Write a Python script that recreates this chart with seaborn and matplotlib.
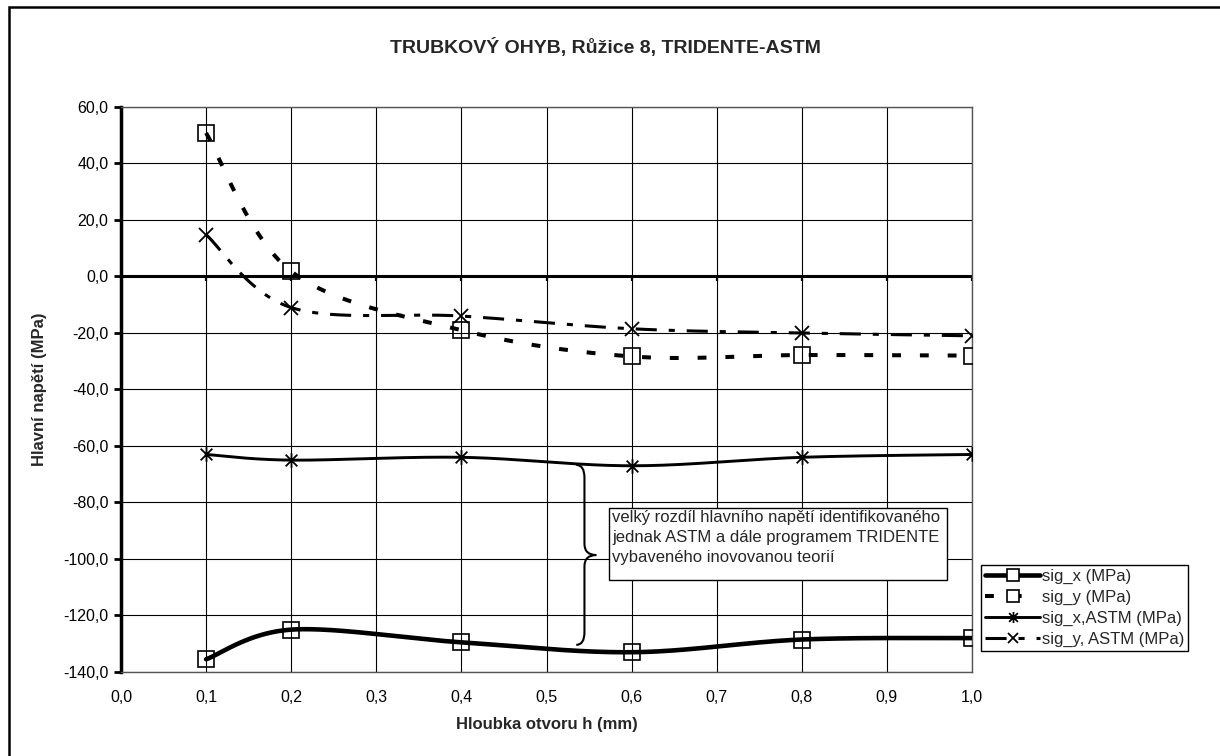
import numpy as np
import matplotlib
matplotlib.use("Agg")
import matplotlib.pyplot as plt
from matplotlib.path import Path
from matplotlib.patches import PathPatch, Rectangle
from matplotlib.lines import Line2D
import seaborn as sns

# ---------------- data ----------------
h = [0.1, 0.2, 0.4, 0.6, 0.8, 1.0]
sig_x = [-135.5, -125.0, -129.5, -133.0, -128.5, -128.0]
sig_y = [50.8, 1.8, -19.0, -28.3, -27.8, -28.0]
sig_x_astm = [-63.0, -65.0, -64.0, -67.0, -64.0, -63.0]
sig_y_astm = [14.8, -11.0, -14.0, -18.5, -20.0, -21.0]

series_labels = ["sig_x (MPa)", "sig_y (MPa)", "sig_x,ASTM (MPa)", "sig_y, ASTM (MPa)"]
x_ticks = [0.0, 0.1, 0.2, 0.3, 0.4, 0.5, 0.6, 0.7, 0.8, 0.9, 1.0]
x_tick_labels = ["0,0", "0,1", "0,2", "0,3", "0,4", "0,5", "0,6", "0,7", "0,8", "0,9", "1,0"]
y_ticks = [-140, -120, -100, -80, -60, -40, -20, 0, 20, 40, 60]
y_tick_labels = ["-140,0", "-120,0", "-100,0", "-80,0", "-60,0", "-40,0", "-20,0",
                 "0,0", "20,0", "40,0", "60,0"]
title = "TRUBKOVÝ OHYB, Růžice 8, TRIDENTE-ASTM"
x_label = "Hloubka otvoru h (mm)"
y_label = "Hlavní napětí (MPa)"
note = ("velký rozdíl hlavního napětí identifikovaného\n"
        "jednak ASTM a dále programem TRIDENTE\n"
        "vybaveného inovovanou teorií")

# ---------------- style ----------------
sns.set_style("white")
plt.rcParams["font.family"] = ["Liberation Sans", "DejaVu Sans"]

W, H = 1220, 756
fig = plt.figure(figsize=(W / 100, H / 100), dpi=100)
fig.patch.set_facecolor("white")

ax_left, ax_right, ax_top, ax_bottom = 121, 972, 107, 672
ax = fig.add_axes([ax_left / W, 1 - ax_bottom / H,
                   (ax_right - ax_left) / W, (ax_bottom - ax_top) / H])


def excel_smooth(xs, ys, n=60):
    """Excel-like smoothed line (Catmull-Rom style cubic Bezier)."""
    P = np.column_stack([xs, ys]).astype(float)
    m = len(P)
    out = []
    t = np.linspace(0, 1, n)[:, None]
    for i in range(m - 1):
        p0 = P[i]
        p3 = P[i + 1]
        prev = P[i - 1] if i > 0 else P[i]
        nxt = P[i + 2] if i + 2 < m else P[i + 1]
        c1 = p0 + (p3 - prev) / 6.0
        c2 = p3 - (nxt - p0) / 6.0
        seg = ((1 - t) ** 3) * p0 + 3 * ((1 - t) ** 2) * t * c1 + 3 * (1 - t) * t ** 2 * c2 + t ** 3 * p3
        if i > 0:
            seg = seg[1:]
        out.append(seg)
    arr = np.vstack(out)
    return arr[:, 0], arr[:, 1]


# asterisk marker like Excel's star (X plus vertical bar)
star = Path([(0, -1), (0, 1), (-0.8, -0.8), (0.8, 0.8), (-0.8, 0.8), (0.8, -0.8)],
            [Path.MOVETO, Path.LINETO, Path.MOVETO, Path.LINETO, Path.MOVETO, Path.LINETO])

styles = [
    dict(y=sig_x, lw=3.3, ls="-", marker="s", ms=11, mew=1.2),
    dict(y=sig_y, lw=2.9, ls=(0, (2.2, 4.7)), marker="s", ms=11, mew=1.2),
    dict(y=sig_x_astm, lw=2.1, ls="-", marker=star, ms=10.5, mew=1.3),
    dict(y=sig_y_astm, lw=2.2, ls=(0, (6.9, 3.9, 2.0, 3.9)), marker="x", ms=10, mew=1.3),
]

# zero line
ax.axhline(0, color="black", lw=2.2, zorder=2)

handles = []
for st, lab in zip(styles, series_labels):
    sx, sy = excel_smooth(h, st["y"])
    sns.lineplot(x=sx, y=sy, ax=ax, color="black", linewidth=st["lw"],
                 linestyle=st["ls"], sort=False, estimator=None, zorder=3)
    sns.lineplot(x=h, y=st["y"], ax=ax, color="black", linestyle="none",
                 marker=st["marker"], markersize=st["ms"], mfc="none",
                 mec="black", mew=st["mew"], sort=False, estimator=None, zorder=4)
    handles.append(Line2D([], [], color="black", lw=st["lw"], ls=st["ls"],
                          marker=st["marker"], ms=st["ms"] * 0.75, mfc="white",
                          mec="black", mew=st["mew"]))

# axes limits & ticks
ax.set_xlim(x_ticks[0], x_ticks[-1])
ax.set_ylim(y_ticks[0], y_ticks[-1])
ax.set_xticks(x_ticks)
ax.set_xticklabels(x_tick_labels)
ax.set_yticks(y_ticks)
ax.set_yticklabels(y_tick_labels)
ax.tick_params(axis="x", length=0, pad=13, labelsize=11.5, colors="black")
ax.tick_params(axis="y", length=5, width=2, direction="out", pad=4,
               labelsize=11.5, colors="black", left=True)
ax.grid(True, color="black", lw=0.8, zorder=1)
ax.set_axisbelow(True)
for side in ["top", "right", "bottom"]:
    ax.spines[side].set_color("#555555")
    ax.spines[side].set_linewidth(1.0)
ax.spines["left"].set_color("black")
ax.spines["left"].set_linewidth(2.5)
ax.set_xlabel("")
ax.set_ylabel("")

# small tick marks on the zero line
ax.vlines(x_ticks, 0.7 - 0.008, 0.7, transform=ax.get_xaxis_transform(),
          color="black", lw=1.6, zorder=2)

# brace annotation (decoration)
bx0, bx1, btip = 0.535, 0.5446, 0.5585
by_top, by_mid, by_bot = -66.7, -98.6, -130.4
brace = Path(
    [(bx0, by_top), (bx1, by_top), (bx1, by_top - 4.5),
     (bx1, by_mid + 4.0),
     (bx1, by_mid), (btip, by_mid),
     (bx1, by_mid), (bx1, by_mid - 4.0),
     (bx1, by_bot + 4.5),
     (bx1, by_bot), (bx0, by_bot)],
    [Path.MOVETO, Path.CURVE3, Path.CURVE3,
     Path.LINETO,
     Path.CURVE3, Path.CURVE3,
     Path.CURVE3, Path.CURVE3,
     Path.LINETO,
     Path.CURVE3, Path.CURVE3])
ax.add_patch(PathPatch(brace, facecolor="none", edgecolor="black", lw=1.5, zorder=5))

# note box
bl, bt, br, bb = 609, 508, 947, 580
fig.patches.append(Rectangle((bl / W, 1 - bb / H), (br - bl) / W, (bb - bt) / H,
                             transform=fig.transFigure, facecolor="white",
                             edgecolor="black", lw=1.0, zorder=6))
fig.text((bl + 3) / W, 1 - (bt + 2) / H, note, ha="left", va="top",
         fontsize=12, linespacing=1.4, zorder=7)

# legend
leg = fig.legend(handles, series_labels, loc="upper left",
                 bbox_to_anchor=(981 / W, 1 - 565 / H), frameon=True,
                 fancybox=False, framealpha=1, edgecolor="black",
                 fontsize=12, handlelength=3.3, handletextpad=0.1,
                 labelspacing=0.35, borderpad=0.25, borderaxespad=0)
leg.get_frame().set_linewidth(1.0)

# titles
fig.text(605 / W, 1 - 48 / H, title, ha="center", va="center",
         fontsize=14, fontweight="bold")
fig.text(((ax_left + ax_right) / 2) / W, 1 - 725 / H, x_label, ha="center",
         va="center", fontsize=12, fontweight="bold")
fig.text(40 / W, 1 - ((ax_top + ax_bottom) / 2) / H, y_label, ha="center",
         va="center", rotation=90, fontsize=12, fontweight="bold")

# chart-area border (right and bottom edges lie outside the image)
fig.patches.append(Rectangle((9 / W, -0.05), 1.2, 1 - 7 / H + 0.05,
                             transform=fig.transFigure, facecolor="none",
                             edgecolor="black", lw=1.8, zorder=0))

fig.savefig("out.png", dpi=100, facecolor="white")
